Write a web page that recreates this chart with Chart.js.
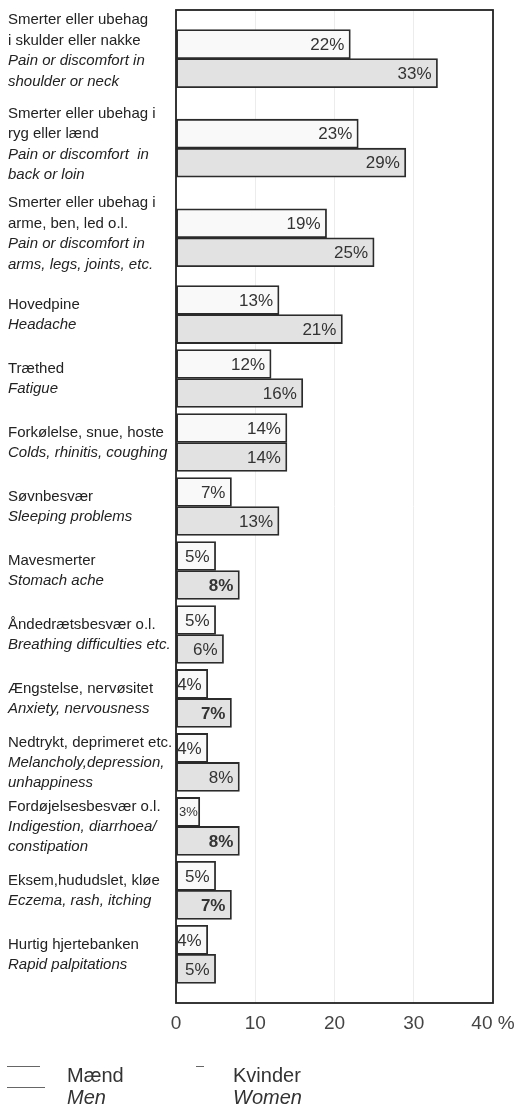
<!DOCTYPE html>
<html>
<head>
<meta charset="utf-8">
<script src="https://cdn.jsdelivr.net/npm/chart.js@4"></script>
<style>
  html, body { margin: 0; padding: 0; background: #fff; }
  #wrap { width: 521px; height: 1109px; position: relative; }
</style>
</head>
<body>
<div id="wrap"><canvas id="myChart"></canvas></div>
<script>
// categories: Danish lines + English (italic) lines
const labelsDa = [
  ["Smerter eller ubehag", "i skulder eller nakke"],
  ["Smerter eller ubehag i", "ryg eller lænd"],
  ["Smerter eller ubehag i", "arme, ben, led o.l."],
  ["Hovedpine"],
  ["Træthed"],
  ["Forkølelse, snue, hoste"],
  ["Søvnbesvær"],
  ["Mavesmerter"],
  ["Åndedrætsbesvær o.l."],
  ["Ængstelse, nervøsitet"],
  ["Nedtrykt, deprimeret etc."],
  ["Fordøjelsesbesvær o.l."],
  ["Eksem,hududslet, kløe"],
  ["Hurtig hjertebanken"]
];
const labelsEn = [
  ["Pain or discomfort in", "shoulder or neck"],
  ["Pain or discomfort  in", "back or loin"],
  ["Pain or discomfort in", "arms, legs, joints, etc."],
  ["Headache"],
  ["Fatigue"],
  ["Colds, rhinitis, coughing"],
  ["Sleeping problems"],
  ["Stomach ache"],
  ["Breathing difficulties etc."],
  ["Anxiety, nervousness"],
  ["Melancholy,depression,", "unhappiness"],
  ["Indigestion, diarrhoea/", "constipation"],
  ["Eczema, rash, itching"],
  ["Rapid palpitations"]
];
const men = [22, 23, 19, 13, 12, 14, 7, 5, 5, 4, 4, 3, 5, 4];
const women = [33, 29, 25, 21, 16, 14, 13, 8, 6, 7, 8, 8, 7, 5];
const xTicks = [0, 10, 20, 30, 40];
const seriesDa = ["Mænd", "Kvinder"];
const seriesEn = ["Men", "Women"];

// a few women's labels are printed bold in the original
const boldWomen = [7, 9, 11, 12];
const FONT = '"Liberation Sans", Arial, Helvetica, sans-serif';

// rows with four label lines take more room than the others
const rowSize = labelsDa.map((d, i) => (d.length + labelsEn[i].length >= 4 ? 1.4 : 1));
const rowPos = [];
rowSize.reduce((acc, s) => { rowPos.push(acc + s / 2); return acc + s; }, 0);

const valueLabels = {
  id: "valueLabels",
  afterDatasetsDraw(chart) {
    const ctx = chart.ctx;
    const series = [men, women];
    ctx.save();
    ctx.fillStyle = "#333";
    ctx.textAlign = "right";
    ctx.textBaseline = "middle";
    chart.data.datasets.forEach((ds, di) => {
      chart.getDatasetMeta(di).data.forEach((bar, i) => {
        const text = series[di][i] + "%";
        const weight = di === 1 && boldWomen.includes(i) ? "bold " : "";
        let size = 17;
        ctx.font = weight + size + "px " + FONT;
        const room = bar.x - bar.base - 4;
        let w = ctx.measureText(text).width;
        let pad = 6;
        if (w > room) {
          size = Math.floor(size * room / w);
          ctx.font = weight + size + "px " + FONT;
          pad = 2;
        }
        ctx.fillText(text, bar.x - pad, bar.y + 1);
      });
    });
    ctx.restore();
  }
};

const sideLabels = {
  id: "sideLabels",
  afterDraw(chart) {
    const ctx = chart.ctx;
    const area = chart.chartArea;
    const yScale = chart.scales.y;
    ctx.save();
    // frame
    ctx.strokeStyle = "#222";
    ctx.lineWidth = 1.8;
    ctx.strokeRect(area.left, area.top, area.right - area.left, area.bottom - area.top);

    // category labels
    ctx.fillStyle = "#222";
    ctx.textAlign = "left";
    ctx.textBaseline = "middle";
    labelsDa.forEach((da, i) => {
      const lines = da.map(t => [t, false]).concat(labelsEn[i].map(t => [t, true]));
      const lh = lines.length >= 4 ? 20.5 : 20;
      const lift = lines.length >= 4 ? (i === 0 ? 8 : 4) : 0;
      const cy = yScale.getPixelForValue(rowPos[i]) - lift;
      lines.forEach(([t, it], k) => {
        ctx.font = (it ? "italic " : "") + "15px " + FONT;
        ctx.fillText(t, 8, cy + (k - (lines.length - 1) / 2) * lh);
      });
    });

    // legend
    ctx.fillStyle = "#333";
    ctx.font = "20px " + FONT;
    ctx.fillText(seriesDa[0], 67, 1076);
    ctx.fillText(seriesDa[1], 233, 1076);
    ctx.font = "italic 20px " + FONT;
    ctx.fillText(seriesEn[0], 67, 1098);
    ctx.fillText(seriesEn[1], 233, 1098);
    ctx.strokeStyle = "#666";
    ctx.lineWidth = 1;
    ctx.beginPath();
    ctx.moveTo(7, 1066.5); ctx.lineTo(40, 1066.5);
    ctx.moveTo(7, 1087.5); ctx.lineTo(45, 1087.5);
    ctx.moveTo(196, 1066.5); ctx.lineTo(204, 1066.5);
    ctx.stroke();
    ctx.restore();
  }
};

const ctx = document.getElementById("myChart").getContext("2d");
const myChart = new Chart(ctx, {
  type: "bar",
  data: {
    datasets: [
      {
        label: seriesDa[0],
        data: men.map((v, i) => ({ x: v, y: rowPos[i] })),
        backgroundColor: "#f9f9f9",
        borderColor: "#2b2b2b",
        borderWidth: 1.8,
        borderSkipped: false,
        barThickness: 29,
      },
      {
        label: seriesDa[1],
        data: women.map((v, i) => ({ x: v, y: rowPos[i] })),
        backgroundColor: "#e2e2e2",
        borderColor: "#2b2b2b",
        borderWidth: 1.8,
        borderSkipped: false,
        barThickness: 29,
      },
    ],
  },
  options: {
    indexAxis: "y",
    responsive: true,
    maintainAspectRatio: false,
    animation: false,
    events: [],
    layout: { padding: { left: 176, right: 28, top: 10, bottom: 0 } },
    plugins: { legend: { display: false }, tooltip: { enabled: false } },
    scales: {
      x: {
        min: 0,
        max: 40,
        afterBuildTicks: s => { s.ticks = xTicks.map(v => ({ value: v })); },
        afterFit: s => { s.height = 106; s.paddingLeft = 0; s.paddingRight = 0; },
        ticks: {
          callback: v => (v === 40 ? "40 %" : String(v)),
          font: { size: 19, family: FONT },
          color: "#444",
          padding: 9,
          maxRotation: 0,
        },
        grid: { color: "#ececec", drawTicks: false },
        border: { display: false },
      },
      y: {
        type: "linear",
        reverse: true,
        offset: false,
        min: -0.06,
        max: 15.46,
        display: false,
      },
    },
  },
  plugins: [valueLabels, sideLabels],
});
</script>
</body>
</html>
